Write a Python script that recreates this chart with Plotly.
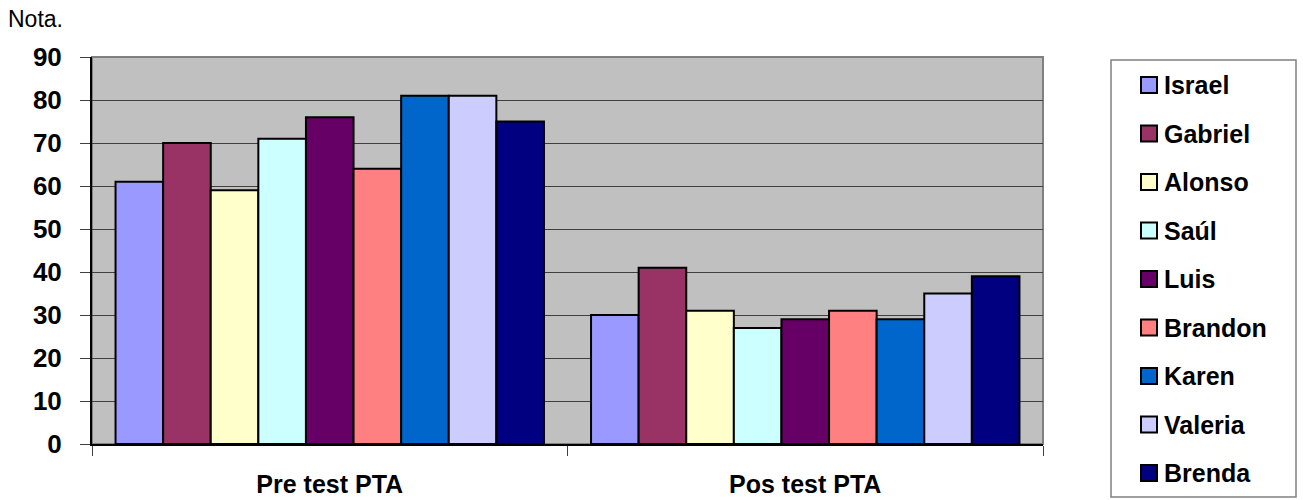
import plotly.graph_objects as go

# Grades per student, before and after the PTA programme
categories = ["Pre test PTA", "Pos test PTA"]
students = ["Israel", "Gabriel", "Alonso", "Saúl", "Luis", "Brandon", "Karen", "Valeria", "Brenda"]
pre_scores = [61, 70, 59, 71, 76, 64, 81, 81, 75]
pos_scores = [30, 41, 31, 27, 29, 31, 29, 35, 39]
colors = ["#9999FF", "#993366", "#FFFFCC", "#CCFFFF", "#660066",
          "#FF8080", "#0066CC", "#CCCCFF", "#000080"]
y_ticks = list(range(0, 100, 10))

FONT = "Liberation Sans, Arial, sans-serif"

# Plot-area geometry in pixels, used to place the side key in paper units
LEFT, RIGHT, TOP, BOTTOM = 92, 1043, 57, 444
PW, PH = RIGHT - LEFT, BOTTOM - TOP


def px_x(px):
    return (px - LEFT) / PW


def px_y(py):
    return (BOTTOM - py) / PH


fig = go.Figure()
for i, name in enumerate(students):
    fig.add_trace(go.Bar(
        name=name,
        x=categories,
        y=[pre_scores[i], pos_scores[i]],
        marker=dict(color=colors[i], line=dict(color="black", width=2)),
        showlegend=False,
    ))

fig.update_layout(
    width=1303, height=500,
    margin=dict(l=LEFT, r=1303 - RIGHT, t=TOP, b=500 - BOTTOM),
    paper_bgcolor="white",
    plot_bgcolor="#C0C0C0",
    barmode="group",
    bargap=0.099,
    bargroupgap=0,
    font=dict(family=FONT, color="black"),
    showlegend=False,
)

fig.update_xaxes(
    type="category",
    tickson="boundaries",
    ticks="outside", ticklen=10, tickcolor="#404040", tickwidth=1,
    showline=True, linecolor="black", linewidth=2,
    showgrid=False,
    tickfont=dict(family=FONT, size=25, weight="bold", color="black"),
    ticklabelstandoff=17,
    automargin=False,
)
fig.update_yaxes(
    range=[0, 90],
    tickvals=y_ticks,
    ticks="outside", ticklen=10, tickcolor="#404040", tickwidth=1,
    showline=True, linecolor="black", linewidth=2,
    showgrid=True, gridcolor="#404040", gridwidth=1,
    zeroline=False,
    tickfont=dict(family=FONT, size=26, weight="bold", color="black"),
    ticklabelstandoff=13,
    automargin=False,
)

# Gray frame around the plotting area (top and right edges)
fig.add_shape(type="rect", xref="paper", yref="paper", x0=0, x1=1, y0=0, y1=1,
              line=dict(color="#808080", width=2), layer="below")

# Side key: framed box with one colour swatch and name per student
fig.add_shape(type="rect", xref="paper", yref="paper",
              x0=px_x(1111), x1=px_x(1296), y0=px_y(497), y1=px_y(60),
              line=dict(color="#808080", width=1.5))
for i, name in enumerate(students):
    cy = 85 + 48.5 * i
    fig.add_shape(type="rect", xref="paper", yref="paper",
                  x0=px_x(1141), x1=px_x(1157), y0=px_y(cy + 8), y1=px_y(cy - 8),
                  fillcolor=colors[i], line=dict(color="black", width=2))
    fig.add_annotation(text=name, xref="paper", yref="paper",
                       x=px_x(1162), y=px_y(cy), xanchor="left", yanchor="middle",
                       showarrow=False,
                       font=dict(family=FONT, size=25, weight="bold", color="black"))

# Axis caption above the value scale
fig.add_annotation(text="Nota.", xref="paper", yref="paper",
                   x=px_x(6), y=px_y(19),
                   xanchor="left", yanchor="middle", showarrow=False,
                   font=dict(family=FONT, size=23, color="black"))

fig.write_html("out.html")
